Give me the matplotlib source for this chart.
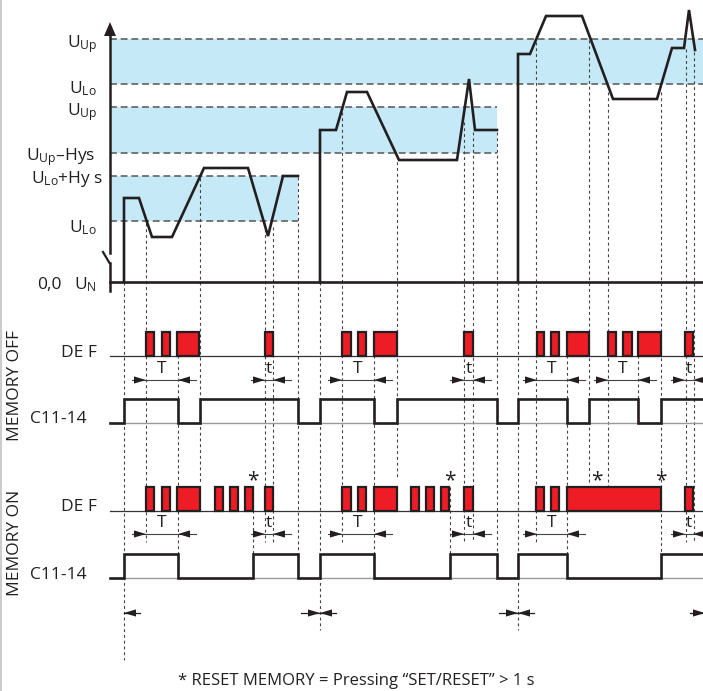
#!/usr/bin/env python3
"""Timing diagram: window monitoring relay, MEMORY OFF / MEMORY ON."""

import matplotlib

matplotlib.use("Agg")
import matplotlib.pyplot as plt
from matplotlib.patches import Rectangle, Polygon

plt.rcParams["font.family"] = ["Open Sans", "DejaVu Sans"]
plt.rcParams["mathtext.fontset"] = "custom"
plt.rcParams["mathtext.rm"] = "Open Sans"
plt.rcParams["mathtext.it"] = "Open Sans"

BAND_COLOR = "#c6e9f8"
RED = "#ee1c25"
INK = "#231f20"

# drawing units = pixel rows/columns of the original sheet (y grows downward)
X_AXIS = 110
X_END = 703
Y_BASE = 282

# threshold bands: top edge, bottom edge, right end
BAND_TOP = [39, 107, 176]
BAND_BOT = [84, 153, 221]
BAND_END = [703, 497, 298]

# level labels on the voltage axis
LEVEL_LABELS = [r"U$_{\rm Up}$", r"U$_{\rm Lo}$", r"U$_{\rm Up}$",
                r"U$_{\rm Up}$–Hys", r"U$_{\rm Lo}$+Hy s", r"U$_{\rm Lo}$"]
LEVEL_LABEL_Y = [47, 93, 115, 160, 183, 232]
LEVEL_LABEL_X = [97, 97, 97, 95, 103, 97]

# supply voltage, three test runs
SIG1_T = [124, 124, 139, 152, 172, 204, 248, 268, 283, 298]
SIG1_Y = [282, 198, 198, 237, 237, 168, 168, 236, 176, 176]
SIG2_T = [320, 320, 336, 347, 367, 399, 457, 469, 475, 497]
SIG2_Y = [282, 130, 130, 92, 92, 160, 160, 79, 130, 130]
SIG3_T = [518, 518, 530, 546, 582, 613, 657, 672, 684, 689, 695]
SIG3_Y = [282, 54, 54, 16, 16, 99, 99, 48, 48, 10, 50]

# vertical guides: x, top, bottom
GUIDE_X = [124, 146, 178, 200, 253, 265, 273, 298,
           320, 342, 374, 397, 450, 464, 473, 497,
           518, 536, 567, 589, 608, 638, 661, 686, 694]
GUIDE_TOP = [282, 223, 332, 178, 487, 223, 227, 177,
             282, 112, 332, 156, 487, 122, 132, 132,
             282, 42, 332, 40, 92, 332, 92, 49, 52]
GUIDE_BOT = [660, 542, 578, 483, 578, 542, 542, 578,
             630, 542, 578, 478, 578, 542, 542, 578,
             630, 542, 578, 483, 487, 423, 578, 542, 542]

# fault LED (DEF) pulses, start/end
DEF_OFF_START = [146, 162, 177, 265, 342, 358, 374, 464, 537, 551, 567, 608, 623, 638, 685]
DEF_OFF_END = [154, 170, 199, 273, 351, 366, 397, 473, 544, 559, 589, 616, 632, 661, 693]
DEF_ON_START = [146, 162, 177, 215, 230, 245, 265, 342, 358, 374, 411, 426, 441, 464, 536, 551, 567, 685]
DEF_ON_END = [154, 170, 200, 223, 238, 253, 273, 351, 366, 397, 419, 434, 449, 473, 544, 559, 661, 693]

# relay C11-14 switching instants (starts de-energised)
C11_OFF_EDGES = [124, 178, 200, 298, 320, 374, 397, 497, 518, 567, 589, 638, 661]
C11_ON_EDGES = [124, 178, 253, 298, 320, 374, 450, 497, 518, 567, 661]

# delay dimensions: left tip, right tip, label
TDIM_OFF_A = [146, 265, 342, 464, 537, 608, 685]
TDIM_OFF_B = [178, 273, 374, 473, 567, 638, 693]
TDIM_OFF_LBL = ["T", "t", "T", "t", "T", "T", "t"]
TDIM_ON_A = [146, 265, 342, 464, 537, 685]
TDIM_ON_B = [178, 273, 374, 473, 567, 693]
TDIM_ON_LBL = ["T", "t", "T", "t", "T", "t"]

# reset memory marks
RESET_X = [253, 450, 597, 661]

# power-on markers at the bottom
POWER_ON_X = [124, 320, 518, 703]

# rows
ROW_DEF_OFF = 356
ROW_C11_OFF = 423
ROW_DEF_ON = 511
ROW_C11_ON = 578
DEF_H = 24
C11_H = 24
ROW_DIM_OFF = 380
ROW_DIM_ON = 534
ROW_POWER = 613


def arrowhead(ax, tip, y, direction, length=12, half=3.6):
    tail = tip - direction * length
    ax.add_patch(Polygon([(tip, y), (tail, y - half), (tail, y + half)],
                         closed=True, color=INK, lw=0, zorder=6))


fig = plt.figure(figsize=(7.03, 6.91), dpi=100)
ax = fig.add_axes([0, 0, 1, 1])
ax.set_xlim(0, 703)
ax.set_ylim(691, 0)
ax.axis("off")

# left border of the sheet
ax.plot([1, 1], [0, 691], color="#cccccc", lw=1.5)

# bands
for top, bot, end in zip(BAND_TOP, BAND_BOT, BAND_END):
    ax.add_patch(Rectangle((X_AXIS, top), end - X_AXIS, bot - top,
                           facecolor=BAND_COLOR, edgecolor="none", zorder=1))
    for yy in (top, bot):
        ax.plot([X_AXIS, end], [yy, yy], color="#555555", lw=1.1,
                ls=(0, (4.5, 2.5)), zorder=2)

for lbl, yy, xx in zip(LEVEL_LABELS, LEVEL_LABEL_Y, LEVEL_LABEL_X):
    ax.text(xx, yy, lbl, ha="right", va="baseline", fontsize=12.5, color=INK)
ax.text(62, 289, "0,0", ha="right", va="baseline", fontsize=12.5, color=INK)
ax.text(97, 289, r"U$_{\rm N}$", ha="right", va="baseline", fontsize=12.5, color=INK)

# guides
for xx, t0, t1 in zip(GUIDE_X, GUIDE_TOP, GUIDE_BOT):
    ax.plot([xx, xx], [t0, t1], color="#444444", lw=0.8, ls=(0, (2.6, 2.6)), zorder=2)

# voltage axis with break
ax.plot([X_AXIS, X_AXIS], [34, 253], color=INK, lw=1.8, zorder=4)
ax.plot([X_AXIS, X_AXIS], [263, 291], color=INK, lw=1.8, zorder=4)
ax.plot([103, 109.5], [252, 263], color=INK, lw=1.6, zorder=4)
ax.add_patch(Polygon([(X_AXIS, 22), (X_AXIS - 6, 36), (X_AXIS + 6, 36)],
                     closed=True, color=INK, lw=0, zorder=5))
ax.plot([X_AXIS, X_END], [Y_BASE, Y_BASE], color=INK, lw=1.9, zorder=4)

for tt, yy in ((SIG1_T, SIG1_Y), (SIG2_T, SIG2_Y), (SIG3_T, SIG3_Y)):
    ax.plot(tt, yy, color=INK, lw=1.9, zorder=5, solid_joinstyle="miter")

# DEF rows
for row, starts, ends in ((ROW_DEF_OFF, DEF_OFF_START, DEF_OFF_END),
                          (ROW_DEF_ON, DEF_ON_START, DEF_ON_END)):
    ax.plot([X_AXIS, X_END], [row, row], color="#333333", lw=0.9, zorder=3)
    for s, e in zip(starts, ends):
        ax.add_patch(Rectangle((s, row - DEF_H), e - s, DEF_H, facecolor=RED,
                               edgecolor=INK, lw=1.6, zorder=5))

# relay rows
for row, edges in ((ROW_C11_OFF, C11_OFF_EDGES), (ROW_C11_ON, C11_ON_EDGES)):
    ax.plot([X_AXIS, X_END], [row, row], color="#999999", lw=1.0, zorder=3)
    xs, ys = [X_AXIS], [row]
    level = row
    for e in edges:
        xs += [e, e]
        ys += [level, row - C11_H if level == row else row]
        level = ys[-1]
    xs.append(X_END)
    ys.append(level)
    ax.plot(xs, ys, color=INK, lw=1.9, zorder=5, solid_joinstyle="miter")

# delay dimensions
for row, aa, bb, lbls in ((ROW_DIM_OFF, TDIM_OFF_A, TDIM_OFF_B, TDIM_OFF_LBL),
                          (ROW_DIM_ON, TDIM_ON_A, TDIM_ON_B, TDIM_ON_LBL)):
    for a, b, lbl in zip(aa, bb, lbls):
        ax.plot([a - 14, min(b + 18, X_END)], [row, row], color="#444444", lw=0.8, zorder=4)
        arrowhead(ax, a, row, 1)
        arrowhead(ax, b, row, -1)
        ax.text((a + b) / 2, row - 3, lbl, ha="center", va="bottom",
                fontsize=12.5, color=INK, zorder=6)

for xx in RESET_X:
    ax.text(xx, ROW_DEF_ON - DEF_H + 4, "*", ha="center", va="bottom",
            fontsize=15, color=INK, zorder=6)

# power-on markers
arrowhead(ax, POWER_ON_X[0], ROW_POWER, -1)
ax.plot([POWER_ON_X[0], POWER_ON_X[0] + 16], [ROW_POWER] * 2, color=INK, lw=0.9)
for xx in POWER_ON_X[1:3]:
    ax.plot([xx - 19, xx + 16], [ROW_POWER] * 2, color=INK, lw=0.9)
    arrowhead(ax, xx, ROW_POWER, 1)
    arrowhead(ax, xx, ROW_POWER, -1)
ax.plot([POWER_ON_X[3] - 13, POWER_ON_X[3]], [ROW_POWER] * 2, color=INK, lw=0.9)
arrowhead(ax, POWER_ON_X[3] + 2, ROW_POWER, 1)

# row labels
ax.text(97, ROW_DEF_OFF + 1, "DE F", ha="right", va="baseline", fontsize=12.5, color=INK)
ax.text(87, ROW_C11_OFF, "C11-14", ha="right", va="baseline", fontsize=12.5, color=INK)
ax.text(97, ROW_DEF_ON, "DE F", ha="right", va="baseline", fontsize=12.5, color=INK)
ax.text(87, ROW_C11_ON + 1, "C11-14", ha="right", va="baseline", fontsize=12.5, color=INK)
ax.text(15, 385, "MEMORY OFF", rotation=90, ha="center", va="center", fontsize=12.5, color=INK)
ax.text(15, 543, "MEMORY ON", rotation=90, ha="center", va="center", fontsize=12.5, color=INK)

ax.text(356, 681, "* RESET MEMORY = Pressing \u201cSET/RESET\u201d > 1 s",
        ha="center", va="center", fontsize=12, color=INK)

fig.savefig("out.png", dpi=100)
